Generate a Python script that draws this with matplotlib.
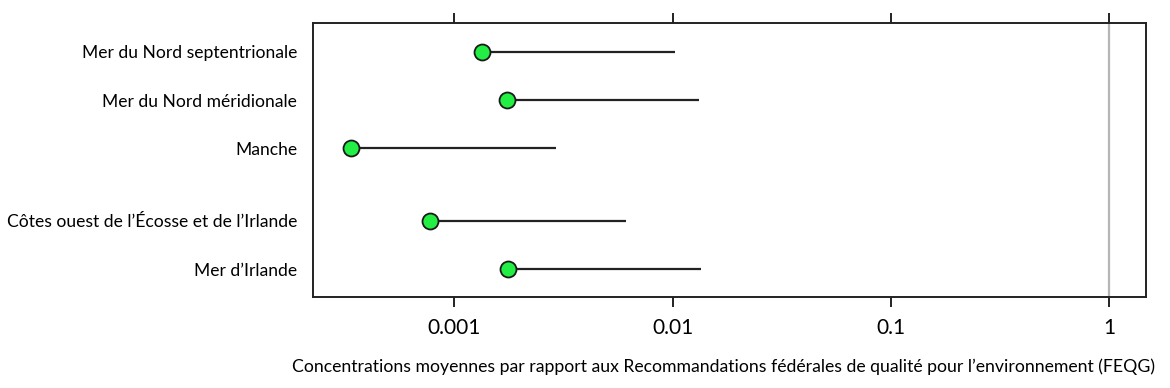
import matplotlib
matplotlib.use('Agg')
import matplotlib.pyplot as plt

# data
regions = ['Mer du Nord septentrionale', 'Mer du Nord méridionale', 'Manche',
           'Côtes ouest de l’Écosse et de l’Irlande', 'Mer d’Irlande']
positions = [0, 1, 2, 3.5, 4.5]
mean_conc = [0.00134, 0.00175, 0.000335, 0.000776, 0.00176]
upper_conc = [0.0103, 0.0132, 0.00293, 0.00615, 0.0135]
ticks = [0.001, 0.01, 0.1, 1]
tick_labels = ['0.001', '0.01', '0.1', '1']

plt.rcParams['font.family'] = ['Lato', 'DejaVu Sans']

fig = plt.figure(figsize=(11.7, 3.88), dpi=100)
ax = fig.add_axes([313/1170, 1 - 297/388, (1146-313)/1170, (297-22.5)/388])

# reference line at FEQG = 1
ax.axvline(1, color='#b5b5b5', lw=1.6, zorder=1)

# lines from mean to upper value, then the mean point
ax.hlines(positions, mean_conc, upper_conc, color='#222222', lw=1.6, zorder=2)
ax.plot(mean_conc, positions, 'o', ms=11.5, mfc='#22ee44', mec='#1a1a1a', mew=1.3, zorder=3)

ax.set_xscale('log')
ax.set_xlim(2.25e-4, 1.48)
ax.set_ylim(5.08, -0.61)

ax.set_xticks(ticks)
ax.set_xticklabels(tick_labels, fontsize=15)
ax.minorticks_off()
ax.tick_params(axis='x', which='major', top=True, direction='out', length=7, width=1.4,
               color='#222222', pad=8)
ax.set_yticks(positions)
ax.set_yticklabels(regions, fontsize=12.6)
ax.tick_params(axis='y', length=0, pad=11.5)

for s in ax.spines.values():
    s.set_linewidth(1.4)
    s.set_color('#222222')

fig.text(723/1170, 1 - 367/388,
         'Concentrations moyennes par rapport aux Recommandations fédérales de qualité pour l’environnement (FEQG)',
         ha='center', va='center', fontsize=12.7)

fig.savefig('out.png', dpi=100)
